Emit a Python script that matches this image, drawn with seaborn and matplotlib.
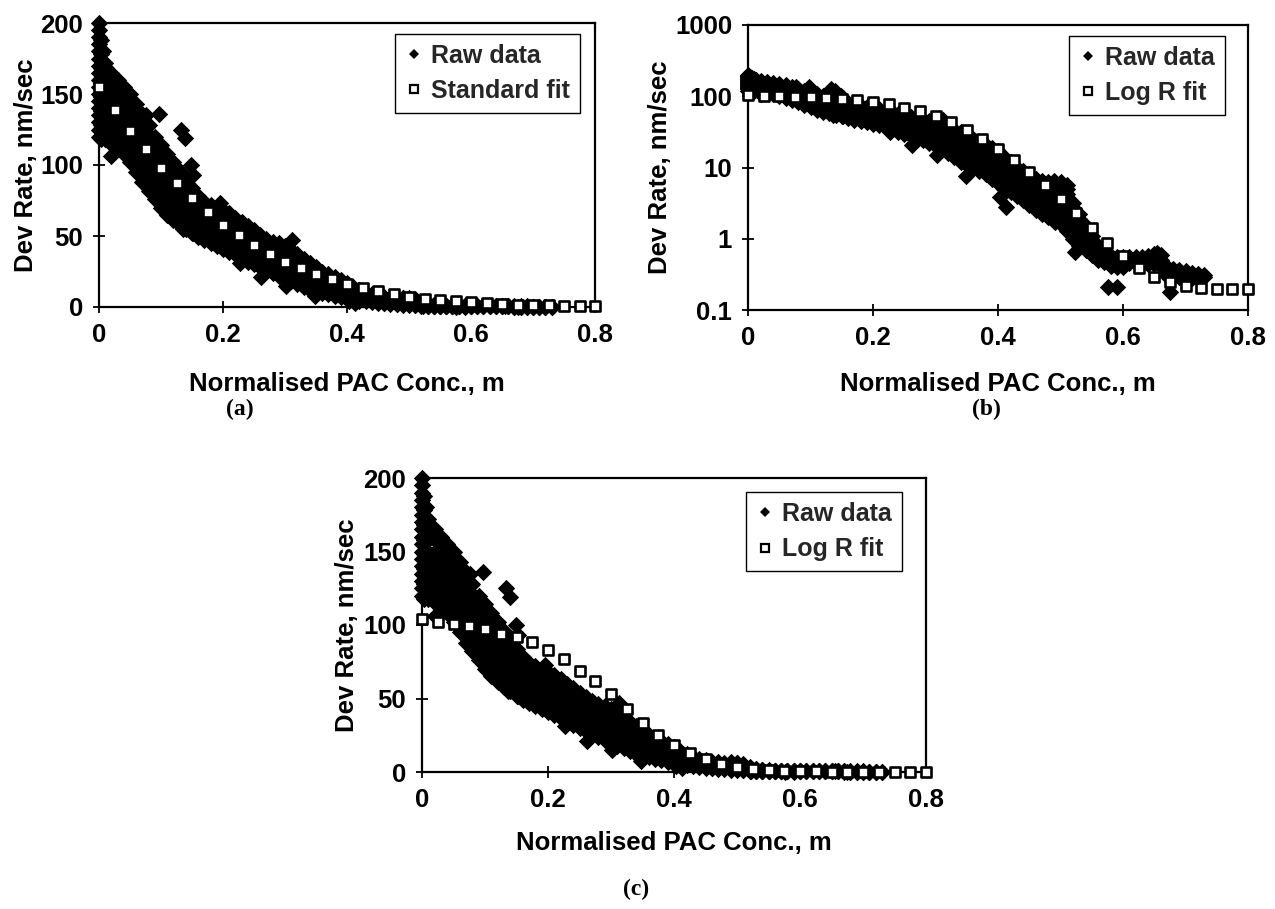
import matplotlib
matplotlib.use("Agg")
import numpy as np
import pandas as pd
import seaborn as sns
import matplotlib.pyplot as plt
from matplotlib.lines import Line2D

# ---------------- data ----------------
# Fit curves: one square every 0.025 in m
fit_m = [0.000, 0.025, 0.050, 0.075, 0.100, 0.125, 0.150, 0.175, 0.200, 0.225, 0.250,
         0.275, 0.300, 0.325, 0.350, 0.375, 0.400, 0.425, 0.450, 0.475, 0.500, 0.525,
         0.550, 0.575, 0.600, 0.625, 0.650, 0.675, 0.700, 0.725, 0.750, 0.775, 0.800]
standard_fit = [155, 139, 124, 111, 98, 87, 76.5, 67, 58, 50.6, 43.5,
                37.6, 32, 27.5, 23.5, 20, 16.5, 13.6, 11, 9, 7, 5.8,
                4.8, 3.9, 3.2, 2.6, 2.1, 1.7, 1.4, 1.1, 0.9, 0.7, 0.6]
logr_fit = [104, 102, 101, 99, 97, 94, 91.5, 88.5, 83, 77, 69,
            62, 53, 43, 33.5, 25.5, 18.3, 12.7, 8.6, 5.6, 3.6, 2.3,
            1.43, 0.88, 0.57, 0.385, 0.293, 0.245, 0.22, 0.206, 0.2, 0.2, 0.2]

# Raw data: dense strip at m ~ 0
raw_m_start = [0.000] * 17 + [0.003] * 8 + [0.006] * 7
raw_rate_start = [200, 195, 190, 185, 180, 175, 170, 165, 160, 155, 150, 145, 140, 135, 130, 125, 120,
                  188, 178, 168, 158, 148, 138, 128, 118,
                  180, 170, 160, 150, 140, 130, 122]

# Raw data: main band, one column of readings per m value
band_m = [0.01, 0.02, 0.03, 0.04, 0.05, 0.06, 0.07, 0.08, 0.09, 0.10,
          0.11, 0.12, 0.13, 0.14, 0.15, 0.16, 0.17, 0.18, 0.19, 0.20,
          0.21, 0.22, 0.23, 0.24, 0.25, 0.26, 0.27, 0.28, 0.29, 0.30,
          0.31, 0.32, 0.33, 0.34, 0.35, 0.36, 0.37, 0.38, 0.39, 0.40,
          0.41, 0.42, 0.43, 0.44, 0.45, 0.46, 0.47, 0.48, 0.49, 0.50,
          0.51, 0.52, 0.53, 0.54, 0.55, 0.56, 0.57, 0.58, 0.59, 0.60,
          0.61, 0.62, 0.63, 0.64, 0.65, 0.66, 0.67, 0.68, 0.69, 0.70,
          0.71, 0.72, 0.73]
band_rates = [
    [172, 165, 158, 150, 142, 134, 126, 118],
    [165, 158, 150, 143, 136, 129, 122, 115],
    [160, 152, 145, 138, 131, 124, 118, 112],
    [155, 147, 140, 133, 126, 120, 114, 108],
    [150, 142, 135, 128, 121, 114, 108, 102],
    [143, 135, 128, 121, 114, 107, 101, 95],
    [136, 128, 121, 114, 107, 100, 94, 88],
    [128, 121, 114, 107, 100, 94, 88, 82],
    [120, 113, 106, 99, 93, 87, 81, 76],
    [114, 107, 100, 94, 88, 82, 76, 70],
    [108, 101, 95, 89, 83, 77, 71, 65],
    [102, 95, 89, 83, 77, 72, 66, 61],
    [96, 90, 84, 78, 73, 68, 63, 58],
    [90, 84, 78, 73, 68, 64, 59, 55],
    [84, 78, 73, 68, 64, 60, 56, 52],
    [78, 73, 68, 64, 60, 56, 52, 49],
    [74, 69, 65, 61, 57, 53, 50, 47],
    [72, 67, 62, 58, 54, 50, 47, 45],
    [70, 65, 60, 56, 52, 48, 45, 43],
    [68, 63, 58, 54, 50, 46, 43, 41],
    [66, 61, 56, 52, 48, 44, 41, 39],
    [63, 58, 54, 50, 46, 42, 39, 37],
    [60, 56, 52, 48, 44, 40, 37, 35],
    [57, 53, 49, 45, 41, 38, 35, 32],
    [54, 50, 46, 42, 39, 36, 33, 30],
    [51, 47, 43, 40, 37, 34, 31, 28],
    [48, 44, 41, 38, 35, 32, 29, 26],
    [46, 42, 39, 36, 33, 30, 27, 24],
    [45, 41, 37, 34, 31, 28, 25, 22],
    [43, 39, 35, 32, 29, 26, 23, 20],
    [40, 36, 33, 30, 27, 24, 21, 18],
    [37, 34, 31, 28, 25, 22, 19, 16],
    [34, 31, 28, 25, 22, 19, 16, 14],
    [31, 28, 25, 22, 19, 16, 14, 12],
    [28, 25, 22, 19, 17, 14, 12, 11],
    [25, 22, 20, 17, 15, 13, 11, 10],
    [23, 20, 18, 16, 14, 12, 10, 9],
    [21, 18, 16, 14, 12, 10.5, 9, 8],
    [19, 16.5, 14.5, 12.5, 11, 9.5, 8, 7],
    [17, 15, 13, 11, 9.5, 8, 7, 6],
    [14, 12.5, 11, 9.5, 8.2, 7, 6, 5],
    [12, 10.5, 9.2, 8, 7, 6, 5.2, 4.5],
    [10, 9, 8, 7, 6.2, 5.4, 4.7, 4],
    [9, 8, 7, 6.2, 5.4, 4.7, 4.1, 3.5],
    [8, 7, 6.2, 5.4, 4.7, 4.1, 3.5, 3],
    [7, 6.2, 5.4, 4.7, 4.1, 3.5, 2.9, 2.5],
    [6.5, 5.7, 5, 4.3, 3.7, 3.1, 2.6, 2.2],
    [6.2, 5.5, 4.8, 4.1, 3.5, 2.9, 2.4, 2.0],
    [6.5, 6, 5.2, 4.4, 3.6, 2.9, 2.3, 1.8],
    [6.3, 5.8, 5, 4.2, 3.4, 2.7, 2.1, 1.6],
    [5.6, 5, 4.2, 3.4, 2.6, 2, 1.6, 1.3],
    [3.2, 2.7, 2.3, 1.9, 1.6, 1.3, 1.1, 1.0],
    [2.2, 1.9, 1.6, 1.4, 1.2, 1.0, 0.9, 0.8],
    [1.5, 1.3, 1.15, 1.0, 0.9, 0.8, 0.7],
    [1.1, 0.95, 0.85, 0.75, 0.68, 0.6],
    [0.8, 0.7, 0.62, 0.55, 0.5],
    [0.65, 0.58, 0.52, 0.47],
    [0.58, 0.52, 0.46, 0.42],
    [0.56, 0.5, 0.45, 0.4],
    [0.56, 0.5, 0.45, 0.4],
    [0.55, 0.5, 0.45],
    [0.55, 0.5, 0.45],
    [0.56, 0.5, 0.45],
    [0.58, 0.5, 0.44],
    [0.62, 0.52, 0.44],
    [0.6, 0.5, 0.42],
    [0.4, 0.35, 0.3],
    [0.38, 0.33, 0.3],
    [0.36, 0.32, 0.29],
    [0.35, 0.31, 0.28],
    [0.33, 0.3, 0.28],
    [0.32, 0.3, 0.28],
    [0.31, 0.29],
]

# Raw data: scattered readings away from the band
outlier_m = [0.012, 0.020, 0.076, 0.097, 0.077, 0.133, 0.139, 0.149, 0.152, 0.136,
             0.152, 0.195, 0.227, 0.262, 0.302, 0.312, 0.348, 0.403, 0.413, 0.491,
             0.523, 0.576, 0.590, 0.655, 0.675]
outlier_rate = [168, 106, 135, 136, 127, 125, 119, 100, 93, 55,
                52, 73, 31, 21, 15, 47, 7.5, 3.9, 2.8, 1.7,
                0.66, 0.21, 0.21, 0.63, 0.18]

# ---------------- assemble tables ----------------
raw_m = list(raw_m_start)
raw_rate = list(raw_rate_start)
for m, col in zip(band_m, band_rates):
    raw_m += [m] * len(col)
    raw_rate += col
raw_m += outlier_m
raw_rate += outlier_rate
raw_df = pd.DataFrame({"m": raw_m, "rate": raw_rate})
fit_df = pd.DataFrame({"m": fit_m, "standard": standard_fit, "logr": logr_fit})

# ---------------- style ----------------
sns.set_theme(style="white")
plt.rcParams["font.family"] = ["Liberation Sans", "DejaVu Sans"]
plt.rcParams["font.weight"] = "bold"
FS = 18.5

fig = plt.figure(figsize=(12.75, 9.09), dpi=100)
W, H = 1275.0, 909.0


def axes_px(left, top, right, bottom):
    return fig.add_axes([left / W, 1 - bottom / H, (right - left) / W, (bottom - top) / H])


panels = [
    dict(rect=(99, 23, 595, 307), fit="standard", flabel="Standard fit", log=False,
         leg=(0.97, 0.962), ylx=-0.147, xly=-0.272, cap="(a)", cap_xy=(240, 409)),
    dict(rect=(748, 25, 1248, 310), fit="logr", flabel="Log R fit", log=True,
         leg=(0.954, 0.962), ylx=-0.176, xly=-0.260, cap="(b)", cap_xy=(986, 409)),
    dict(rect=(422, 478, 926, 772), fit="logr", flabel="Log R fit", log=False,
         leg=(0.952, 0.952), ylx=-0.149, xly=-0.241, cap="(c)", cap_xy=(636, 889)),
]

for p in panels:
    ax = axes_px(*p["rect"])
    if p["log"]:
        ax.set_yscale("log")
    sns.scatterplot(data=raw_df, x="m", y="rate", marker="D", s=78, color="black",
                    linewidth=0, ax=ax, clip_on=False, zorder=2, legend=False)
    sns.scatterplot(data=fit_df, x="m", y=p["fit"], marker="s", s=52, color="white",
                    edgecolor="black", linewidth=1.9, ax=ax, clip_on=False, zorder=3,
                    legend=False)

    ax.set_xlim(0, 0.8)
    ax.set_xticks([0, 0.2, 0.4, 0.6, 0.8])
    ax.set_xticklabels(["0", "0.2", "0.4", "0.6", "0.8"])
    if p["log"]:
        ax.set_ylim(0.1, 1000)
        ax.set_yticks([0.1, 1, 10, 100, 1000])
        ax.set_yticklabels(["0.1", "1", "10", "100", "1000"])
        ax.minorticks_off()
    else:
        ax.set_ylim(0, 200)
        ax.set_yticks([0, 50, 100, 150, 200])
        ax.set_yticklabels(["0", "50", "100", "150", "200"])

    for sp in ax.spines.values():
        sp.set_visible(True)
        sp.set_color("black")
        sp.set_linewidth(1.6)
    ax.tick_params(axis="both", which="major", direction="inout", length=9, width=1.3,
                   color="black", labelsize=FS, labelcolor="black", pad=7,
                   bottom=True, left=True, top=False, right=False)
    for lab in ax.get_xticklabels() + ax.get_yticklabels():
        lab.set_fontweight("bold")

    ax.set_xlabel("Normalised PAC Conc., m", fontsize=FS, color="black", va="center",
                  fontweight="bold")
    ax.set_ylabel("Dev Rate, nm/sec", fontsize=FS, color="black", va="center",
                  fontweight="bold")
    ax.xaxis.set_label_coords(0.5, p["xly"])
    ax.yaxis.set_label_coords(p["ylx"], 0.5)
    ax.grid(False)

    handles = [
        Line2D([], [], marker="D", ls="", color="black", markersize=5.0, mew=0),
        Line2D([], [], marker="s", ls="", mfc="white", mec="black", mew=1.6, markersize=5.6),
    ]
    leg = ax.legend(handles, ["Raw data", p["flabel"]], loc="upper right",
                    bbox_to_anchor=p["leg"], borderaxespad=0,
                    prop={"size": FS - 0.5, "weight": "bold"},
                    frameon=True, fancybox=False, shadow=False, framealpha=1,
                    edgecolor="black", handlelength=0.7, handletextpad=0.35,
                    borderpad=0.4, labelspacing=0.45)
    leg.get_frame().set_linewidth(1.0)

    fig.text(p["cap_xy"][0] / W, 1 - p["cap_xy"][1] / H, p["cap"],
             family=["Liberation Serif", "DejaVu Serif"], fontsize=17, fontweight="bold",
             ha="center", va="center", color="black")

fig.savefig("out.png", dpi=100, facecolor="white")
